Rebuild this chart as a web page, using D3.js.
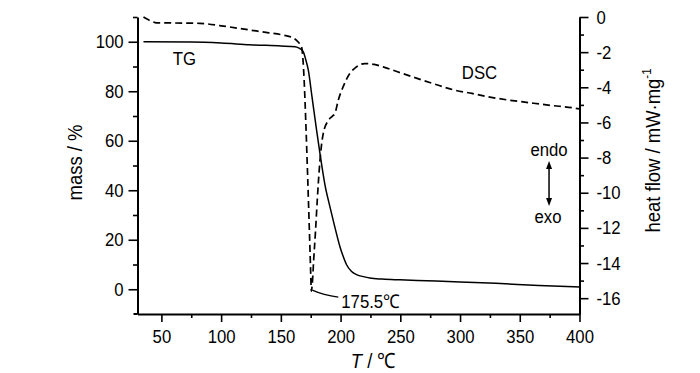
<!DOCTYPE html>
<html>
<head>
<meta charset="utf-8">
<script src="https://cdn.jsdelivr.net/npm/d3@7"></script>
<style>
  html, body { margin: 0; padding: 0; background: #fff; }
  svg { display: block; }
  text { font-family: "Liberation Sans", Arial, Helvetica, sans-serif; fill: #000; }
</style>
</head>
<body>
<svg id="chart" width="700" height="373"></svg>
<script>
// ---- data ----
const tgTemp = [35, 75, 100, 124, 150, 162, 166, 168.7, 171, 173, 176, 180, 182.7, 187, 191, 195, 199.4, 202, 205, 209, 213.4, 220, 224.5, 235, 249.6, 280, 300, 330, 366, 400];
const tgMass = [100, 99.9, 99.5, 98.8, 98.3, 98.0, 97.2, 96, 92.5, 88.5, 78, 64, 55, 42, 33.5, 25.5, 17.3, 13.5, 9.9, 7.3, 5.9, 5.0, 4.5, 4.1, 3.8, 3.3, 2.9, 2.4, 1.5, 0.9];

const dscTemp = [35, 38, 42, 46, 60, 82, 100, 124, 140, 152, 160, 163, 166, 167.5, 168.5, 169.5, 171, 172.5, 174, 175, 175.5, 176.5, 177.5, 179, 180.5, 182.7, 185.4, 189.6, 193, 195.2, 198, 202, 207.7, 213, 220.3, 228, 235.6, 248.2, 260.8, 278, 294.2, 310, 325, 340, 358.3, 376, 394.5, 400];
const dscHeat = [0, -0.12, -0.25, -0.33, -0.34, -0.36, -0.5, -0.74, -0.9, -1.03, -1.18, -1.32, -1.55, -1.75, -2.4, -3.6, -6.2, -9.2, -12.4, -14.6, -15.6, -15.0, -13.8, -12.2, -10.4, -8.2, -6.66, -5.9, -5.65, -5.5, -4.75, -3.99, -3.22, -2.85, -2.65, -2.7, -2.84, -3.13, -3.42, -3.8, -4.14, -4.35, -4.56, -4.72, -4.88, -5.03, -5.17, -5.23];

const xMajorTicks = [50, 100, 150, 200, 250, 300, 350, 400];
const xMinorTicks = [75, 125, 175, 225, 275, 325, 375];
const massMajorTicks = [0, 20, 40, 60, 80, 100];
const massMinorTicks = [10, 30, 50, 70, 90, 110];
const heatMajorTicks = [0, -2, -4, -6, -8, -10, -12, -14, -16];
const heatMinorTicks = [-1, -3, -5, -7, -9, -11, -13, -15];

const peakTemp = 175.5, peakHeat = -15.6, peakLabel = "175.5℃";

// ---- layout ----
const mLeft = 137.5, mRight = 579.5, mTop = 17, mBottom = 314;
const svg = d3.select("#chart");

const x = d3.scaleLinear().domain([30, 400]).range([mLeft, mRight]);
const yMass = d3.scaleLinear().domain([-10, 110]).range([mBottom, mTop]);
const yHeat = d3.scaleLinear().domain([-16.9, 0]).range([mBottom, mTop]);

const tickFont = 19, titleFont = 21, sx = 0.88;

function styleAxis(g) {
  g.select(".domain").attr("stroke", "#000").attr("stroke-width", 2);
  g.selectAll(".tick line").attr("stroke", "#000").attr("stroke-width", 1.6);
  g.selectAll("text").attr("font-size", tickFont).attr("font-family", '"Liberation Sans", Arial, sans-serif').attr("fill", "#000")
    .attr("transform", `scale(${sx},1)`)
    .attr("x", function () { return (+d3.select(this).attr("x") || 0) / sx; });
}

function addText(px, py, str, size, anchor, rot) {
  return svg.append("text")
    .attr("transform", `translate(${px},${py})${rot ? ` rotate(${rot})` : ""} scale(${sx},1)`)
    .attr("text-anchor", anchor || "start").attr("font-size", size).text(str);
}

// x axis
svg.append("g").attr("transform", `translate(0,${mBottom})`)
  .call(d3.axisBottom(x).tickValues(xMinorTicks).tickSize(4).tickSizeOuter(0).tickFormat(""))
  .call(styleAxis).select(".domain").remove();
svg.append("g").attr("transform", `translate(0,${mBottom})`)
  .call(d3.axisBottom(x).tickValues(xMajorTicks).tickSize(8).tickSizeOuter(0).tickPadding(8).tickFormat(d => String(d)))
  .call(styleAxis);
svg.append("line").attr("x1", mLeft - 4).attr("x2", mLeft).attr("y1", mBottom).attr("y2", mBottom)
  .attr("stroke", "#000").attr("stroke-width", 2);

// left axis
svg.append("g").attr("transform", `translate(${mLeft},0)`)
  .call(d3.axisLeft(yMass).tickValues(massMinorTicks).tickSize(4.5).tickSizeOuter(0).tickFormat(""))
  .call(styleAxis).select(".domain").remove();
svg.append("g").attr("transform", `translate(${mLeft},0)`)
  .call(d3.axisLeft(yMass).tickValues(massMajorTicks).tickSize(9).tickSizeOuter(0).tickPadding(5).tickFormat(d => String(d)))
  .call(styleAxis);

// right axis
svg.append("g").attr("transform", `translate(${mRight},0)`)
  .call(d3.axisRight(yHeat).tickValues(heatMinorTicks).tickSize(4.5).tickSizeOuter(0).tickFormat(""))
  .call(styleAxis).select(".domain").remove();
svg.append("g").attr("transform", `translate(${mRight},0)`)
  .call(d3.axisRight(yHeat).tickValues(heatMajorTicks).tickSize(9).tickSizeOuter(0).tickPadding(8).tickFormat(d => String(d)))
  .call(styleAxis);

// axis titles
addText(mLeft - 56, (mTop + mBottom) / 2 - 3, "mass / %", titleFont, "middle", -90);

const rt = addText(mRight + 80, (mTop + mBottom) / 2 - 15, null, titleFont, "middle", -90);
rt.append("tspan").text("heat flow / mW·mg");
rt.append("tspan").attr("font-size", 13).attr("dy", -9).text("-1");

const xt = addText((mLeft + mRight) / 2 + 15, 368, null, titleFont, "middle");
xt.append("tspan").attr("font-style", "italic").text("T");
xt.append("tspan").text(" / ℃");

// ---- curves ----
const tgLine = d3.line().x((d, i) => x(tgTemp[i])).y(d => yMass(d)).curve(d3.curveMonotoneX);
svg.append("path").datum(tgMass).attr("d", tgLine)
  .attr("fill", "none").attr("stroke", "#000").attr("stroke-width", 1.5);

const dscLine = d3.line().x((d, i) => x(dscTemp[i])).y(d => yHeat(d)).curve(d3.curveMonotoneX);
svg.append("path").datum(dscHeat).attr("d", dscLine)
  .attr("fill", "none").attr("stroke", "#000").attr("stroke-width", 1.7)
  .attr("stroke-dasharray", "7,4");

// ---- annotations ----
addText(x(59.5), yMass(90.5), "TG", tickFont);
addText(x(301.5), yHeat(-3.5), "DSC", tickFont);

const px = x(peakTemp), py = yHeat(peakHeat);
svg.append("path")
  .attr("d", `M${px + 1},${py - 1} Q${px + 12},${py + 4} ${px + 27},${py + 6}`)
  .attr("fill", "none").attr("stroke", "#000").attr("stroke-width", 1.3);
addText(px + 30, py + 17, peakLabel, tickFont);

// endo / exo arrow
const arrowT = 374.5, arrowTop = -8.2, arrowBot = -10.76;
const ax = x(arrowT), ay1 = yHeat(arrowTop), ay2 = yHeat(arrowBot);
svg.append("line").attr("x1", ax).attr("x2", ax).attr("y1", ay1 + 5).attr("y2", ay2 - 5)
  .attr("stroke", "#000").attr("stroke-width", 1.5);
svg.append("path").attr("d", `M${ax},${ay1} L${ax - 3},${ay1 + 8} L${ax + 3},${ay1 + 8} Z`).attr("fill", "#000");
svg.append("path").attr("d", `M${ax},${ay2} L${ax - 3},${ay2 - 8} L${ax + 3},${ay2 - 8} Z`).attr("fill", "#000");
addText(ax, ay1 - 5, "endo", tickFont, "middle");
addText(ax - 1, ay2 + 16.5, "exo", tickFont, "middle");
</script>
</body>
</html>
